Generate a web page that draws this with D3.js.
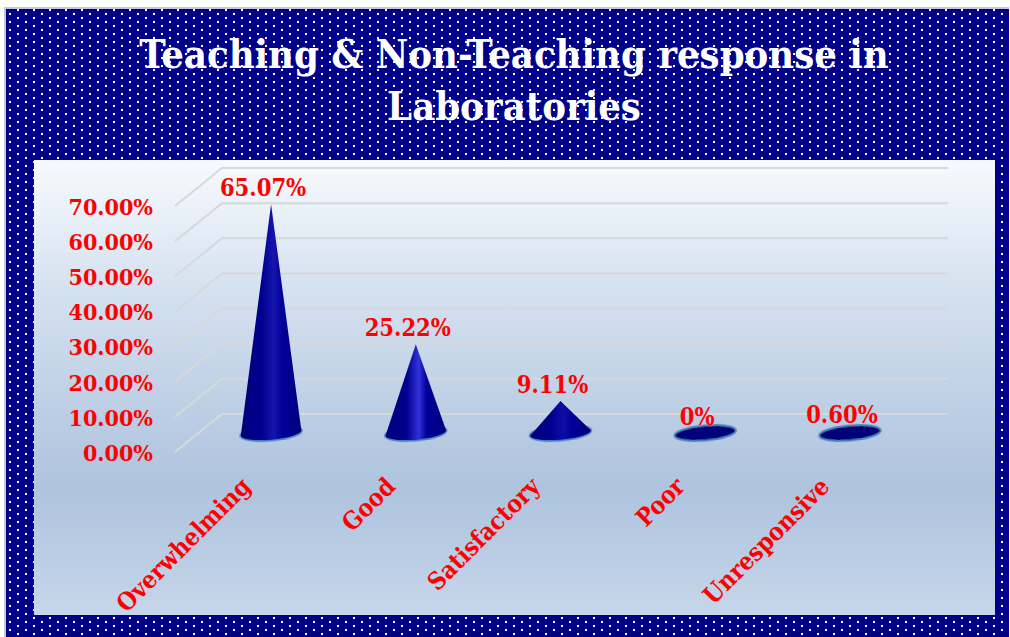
<!DOCTYPE html>
<html><head><meta charset="utf-8">
<script src="https://cdnjs.cloudflare.com/ajax/libs/d3/7.8.5/d3.min.js"></script>
<style>html,body{margin:0;padding:0;background:#fff}svg{display:block}text{font-family:"DejaVu Serif Condensed","DejaVu Serif",serif;font-weight:bold;font-stretch:condensed}</style>
</head><body><svg id="c" width="1010" height="637"></svg>
<script>
const titleLines = ["Teaching & Non-Teaching response in", "Laboratories"];
const categories = ["Overwhelming", "Good", "Satisfactory", "Poor", "Unresponsive"];
const values = [65.07, 25.22, 9.11, 0, 0.60];
const valueLabels = ["65.07%", "25.22%", "9.11%", "0%", "0.60%"];
const yTicks = [0, 10, 20, 30, 40, 50, 60, 70];
const coneHighlights = ["#1616ae", "#3232d8", "#0e0ea6", "#000080", "#000080"];

const svg = d3.select("#c");
const defs = svg.append("defs");

const pat = defs.append("pattern").attr("id","dots").attr("patternUnits","userSpaceOnUse")
  .attr("width",16).attr("height",8);
pat.append("rect").attr("width",16).attr("height",8).attr("fill","#00008b");
pat.append("rect").attr("x",1).attr("y",1).attr("width",2).attr("height",2).attr("fill","#fff");
pat.append("rect").attr("x",9).attr("y",5).attr("width",2).attr("height",2).attr("fill","#fff");

const bg = defs.append("linearGradient").attr("id","panel").attr("x1",0).attr("y1",0).attr("x2",0).attr("y2",1);
[[0,"#f7fafd"],[0.3,"#d3e0ef"],[0.72,"#aec3de"],[1,"#c6d6ea"]].forEach(s=>bg.append("stop").attr("offset",s[0]).attr("stop-color",s[1]));

values.forEach((v,i)=>{
  const g = defs.append("linearGradient").attr("id","cone"+i);
  [[0,"#00007c"],[0.35,"#000090"],[0.55,coneHighlights[i]],[0.68,"#00009a"],[1,"#00007c"]]
    .forEach(s=>g.append("stop").attr("offset",s[0]).attr("stop-color",s[1]));
});
defs.append("filter").attr("id","soft").attr("x","-20%").attr("y","-60%").attr("width","140%").attr("height","220%")
  .append("feGaussianBlur").attr("stdDeviation",0.7);

svg.append("rect").attr("x",4).attr("y",7).attr("width",1005).attr("height",630).attr("fill","#c4c8d4");
svg.append("rect").attr("x",6).attr("y",9).attr("width",1003).attr("height",628).attr("fill","url(#dots)");
svg.append("rect").attr("x",34).attr("y",160).attr("width",961).attr("height",455).attr("fill","url(#panel)");

svg.append("g").selectAll("text").data(titleLines).join("text")
  .attr("x",514).attr("y",(d,i)=>68+i*52).attr("text-anchor","middle")
  .attr("font-size",39.6).attr("fill","#fff").text(d=>d);

const y = d3.scaleLinear().domain([0,70]).range([452,206]);
const x = d3.scaleBand().domain(categories).range([198.7,922.3]).paddingInner(0.58).paddingOuter(0.29);
const depthX = 47, depthY = 38, wallRight = 948;
const baseDrop = 19;

const grid = svg.append("g").attr("fill","none").attr("stroke","#d6d8da").attr("stroke-width",2);
grid.selectAll("path").data(yTicks).join("path")
  .attr("d",t=>`M${175},${y(t)}L${175+depthX},${y(t)-depthY}L${wallRight},${y(t)-depthY}`);

const axis = d3.axisLeft(y).tickValues(yTicks).tickSize(0).tickPadding(0).tickFormat(t=>t.toFixed(2)+"%");
const ax = svg.append("g").attr("transform","translate(153,1)").call(axis);
ax.select(".domain").remove();
ax.selectAll("text").attr("font-size",23).attr("fill","#f00")
  .style("font-family",'"DejaVu Serif Condensed","DejaVu Serif",serif').style("font-weight","bold");

const tilt = -5*Math.PI/180;
const base = y(0)-baseDrop;
const apexY = v => base - (y(0)-y(v));
const cones = svg.append("g");
const cx = c => x(c)+x.bandwidth()/2;
const rx = x.bandwidth()/2, ry = 6.5;
categories.forEach((c,i)=>{
  const X = cx(c), v = values[i];
  const ex = rx*Math.cos(tilt), ey = rx*Math.sin(tilt);
  cones.append("ellipse").attr("cx",X).attr("cy",base).attr("rx",rx+0.5).attr("ry",ry+1)
    .attr("transform",`rotate(-5 ${X} ${base})`)
    .attr("fill","#000078").attr("stroke","#4c86bb").attr("stroke-width",2).attr("filter","url(#soft)");
  if (v >= 1) {
    cones.append("path")
      .attr("d",`M${X-ex},${base-ey}L${X},${apexY(v)}L${X+ex},${base+ey}A${rx},${ry} -5 0 1 ${X-ex},${base-ey}Z`)
      .attr("fill",`url(#cone${i})`);
  }
});

svg.append("g").selectAll("text").data(values).join("text")
  .attr("x",(d,i)=>cx(categories[i])-8).attr("y",d=>apexY(d)-8)
  .attr("text-anchor","middle").attr("font-size",23.5).attr("fill","#f00")
  .text((d,i)=>valueLabels[i]);

svg.append("g").selectAll("text").data(categories).join("text")
  .attr("transform",c=>`translate(${cx(c)-19},488) rotate(-45)`)
  .attr("text-anchor","end").attr("font-size",24.4).attr("fill","#f00").text(c=>c);
</script></body></html>
